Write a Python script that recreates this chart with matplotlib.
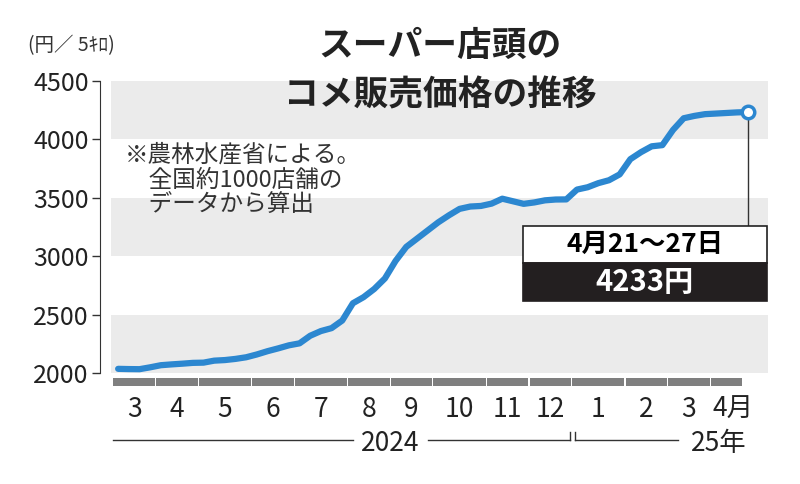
import matplotlib.pyplot as plt
from matplotlib.patches import Rectangle

plt.rcParams['font.family'] = ['Noto Sans CJK JP', 'DejaVu Sans']

# weekly price (yen / 5kg), first week of Mar 2024 .. Apr 21-27 2025
prices = [2037, 2035, 2034, 2050, 2068, 2075, 2081, 2088, 2090, 2107,
          2112, 2122, 2136, 2160, 2188, 2212, 2238, 2255, 2320, 2360,
          2385, 2450, 2598, 2650, 2720, 2810, 2960, 3080, 3150, 3220,
          3290, 3350, 3405, 3425, 3430, 3450, 3492, 3470, 3448, 3460,
          3478, 3485, 3486, 3570, 3590, 3625, 3650, 3700, 3830, 3890,
          3940, 3950, 4080, 4180, 4200, 4215, 4220, 4225, 4230, 4233]
month_labels = ['3', '4', '5', '6', '7', '8', '9', '10', '11', '12',
                '1', '2', '3', '4月']
month_edges = [0, 4, 8, 13, 17, 22, 26, 30, 35, 39, 43, 48, 52, 56, 59]
yticks = [2000, 2500, 3000, 3500, 4000, 4500]

blue = '#2c87d0'
num_font = ['Liberation Sans Narrow', 'Noto Sans CJK JP', 'DejaVu Sans']

fig = plt.figure(figsize=(8, 4.84), dpi=100)
ax = fig.add_axes([0.125, 0.229, 0.835, 0.604])
ax.set_xlim(-1.7, 60.9)
ax.set_ylim(2000, 4500)

# gray bands
for lo in (2000, 3000, 4000):
    ax.fill_between([-0.65, 60.9], lo, lo + 500, color='#ebebeb', lw=0, zorder=0)

weeks = list(range(len(prices)))
ax.plot(weeks, prices, color=blue, lw=4.5, solid_capstyle='round', zorder=3)
ax.plot(weeks[-1], prices[-1], 'o', ms=9, mfc='white', mec=blue, mew=2.5, zorder=4)

# leader line and callout
ax.plot([weeks[-1], weeks[-1]], [prices[-1], 3258], color='#333333', lw=1, zorder=2)
ax.add_patch(Rectangle((37.9, 2944), 22.9, 314, fc='white', ec='#222222',
                       lw=1.2, zorder=5, clip_on=False))
ax.add_patch(Rectangle((37.9, 2621), 22.9, 323, fc='#231f20', ec='#231f20',
                       lw=1.2, zorder=5, clip_on=False))
ax.text(49.35, 3101, '4月21～27日', ha='center', va='center', fontsize=19,
        fontweight='bold', zorder=6)
ax.text(49.35, 2782, f'{prices[-1]}円', ha='center', va='center', fontsize=21,
        fontweight='bold', color='white', zorder=6)

# note
ax.text(0.6, 3960, '※農林水産省による。\n　全国約1000店舗の\n　データから算出',
        fontsize=17, color='#333333', va='top', linespacing=1.1)

# axis styling
for s in ('top', 'right', 'bottom'):
    ax.spines[s].set_visible(False)
ax.spines['left'].set_color('#333333')
ax.set_yticks(yticks)
ax.set_yticklabels([str(t) for t in yticks], family=num_font, fontsize=18,
                   color='#222222')
ax.tick_params(axis='y', length=6, width=1, color='#333333', pad=2)
ax.set_xticks([])

# month bars and labels
for i, lab in enumerate(month_labels):
    a, b = month_edges[i], month_edges[i + 1]
    ax.fill_between([a - 0.45, b - 0.55], 1889, 1957, color='#7f7f7f', lw=0,
                    clip_on=False)
    ax.text((a + b - 1) / 2 + (0.6 if lab == '4月' else 0), 1690, lab,
            ha='center', va='center', family=num_font, fontsize=19,
            color='#222222', clip_on=False)

# year lines
ax.plot([-0.5, 22.0], [1430, 1430], color='#333333', lw=1, clip_on=False)
ax.plot([29.0, 42.3], [1430, 1430], color='#333333', lw=1, clip_on=False)
ax.plot([42.3, 42.3], [1430, 1500], color='#333333', lw=1, clip_on=False)
ax.plot([42.8, 42.8], [1430, 1500], color='#333333', lw=1, clip_on=False)
ax.plot([42.8, 52.5], [1430, 1430], color='#333333', lw=1, clip_on=False)
ax.text(25.5, 1400, '2024', ha='center', va='center', family=num_font,
        fontsize=19, color='#222222', clip_on=False)
ax.text(56.3, 1400, '25年', ha='center', va='center', family=num_font,
        fontsize=19, color='#222222', clip_on=False)

# title and unit
fig.text(0.55, 0.907, 'スーパー店頭の', ha='center', va='center', fontsize=25,
         fontweight='bold', color='#222222')
fig.text(0.55, 0.804, 'コメ販売価格の推移', ha='center', va='center', fontsize=25,
         fontweight='bold', color='#222222')
fig.text(0.035, 0.905, '(円／ 5ｷﾛ)', ha='left', va='center', fontsize=14,
         color='#333333')

fig.savefig('out.png', dpi=100)
